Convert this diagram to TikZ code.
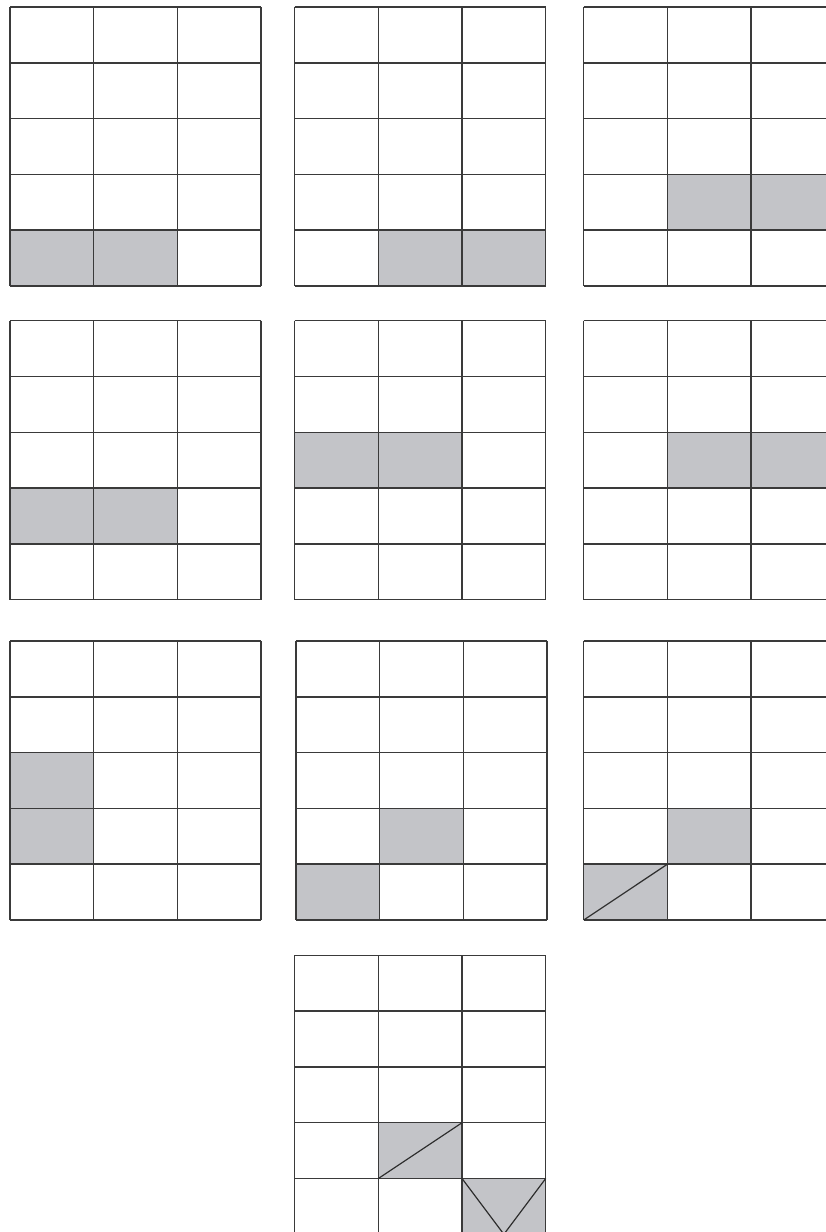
\documentclass[tikz,border=0pt]{standalone}
\definecolor{shade}{HTML}{C3C4C8}
\definecolor{ink}{HTML}{3A3A3A}
\tikzset{
  gridline/.style={draw=ink, line width=1.5pt},
  shadecell/.style={fill=shade},
  diagline/.style={draw=ink!80!black, line width=1.2pt},
}
\newcommand{\cw}{83.67}
\newcommand{\ch}{55.8}
% \mygrid{x}{y}{list of shaded cells r/c}
\newcommand{\mygrid}[3]{%
  \begin{scope}[shift={(#1,#2)}]
    \foreach \r/\c in {#3} {
      \fill[shadecell] (\c*\cw,\r*\ch) rectangle ({(\c+1)*\cw},{(\r+1)*\ch});
    }
    \foreach \i in {0,...,5} { \draw[gridline] (0,\i*\ch) -- (3*\cw,\i*\ch); }
    \foreach \j in {0,...,3} { \draw[gridline] (\j*\cw,0) -- (\j*\cw,5*\ch); }
  \end{scope}%
}
\begin{document}
\begin{tikzpicture}[x=1pt,y=-1pt]
\useasboundingbox (0,0) rectangle (826,1232);
\fill[white] (0,0) rectangle (826,1232);
\clip (0,0) rectangle (826,1232);
% row A
\mygrid{10}{7}{4/0,4/1}
\mygrid{294.7}{7}{4/1,4/2}
\mygrid{583.7}{7}{3/1,3/2}
% row B
\mygrid{10}{320.7}{3/0,3/1}
\mygrid{294.7}{320.7}{2/0,2/1}
\mygrid{583.7}{320.7}{2/1,2/2}
% row C
\mygrid{10}{641}{2/0,3/0}
\mygrid{296}{641}{3/1,4/0}
\mygrid{583.7}{641}{3/1,4/0}
\draw[diagline] (583.7,{641+5*\ch}) -- ({583.7+\cw},{641+4*\ch});
% row D
\mygrid{294.7}{955.3}{3/1,4/2}
\draw[diagline] ({294.7+\cw},{955.3+4*\ch}) -- ({294.7+2*\cw},{955.3+3*\ch});
\draw[diagline] ({294.7+2*\cw},{955.3+4*\ch}) -- ({294.7+2.5*\cw},{955.3+5*\ch}) -- ({294.7+3*\cw},{955.3+4*\ch});
\end{tikzpicture}
\end{document}
